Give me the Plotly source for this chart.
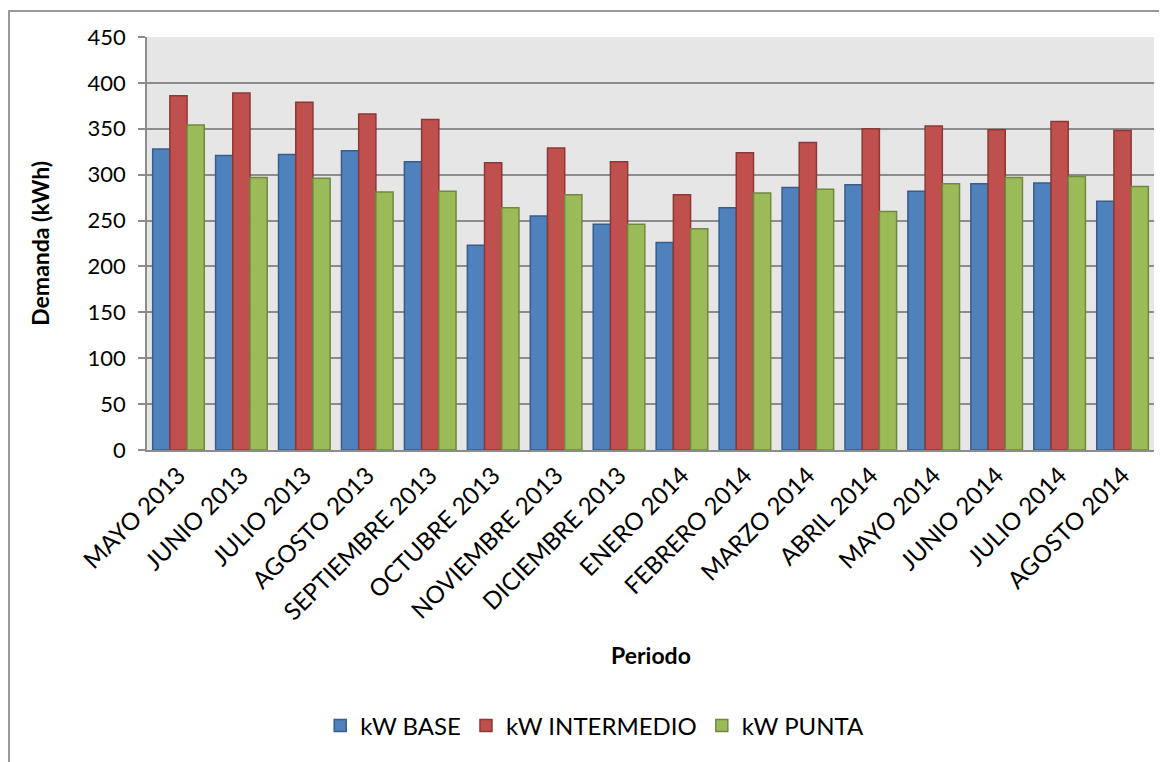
import plotly.graph_objects as go

meses = ["MAYO 2013", "JUNIO 2013", "JULIO 2013", "AGOSTO 2013", "SEPTIEMBRE 2013",
         "OCTUBRE 2013", "NOVIEMBRE 2013", "DICIEMBRE 2013", "ENERO 2014",
         "FEBRERO 2014", "MARZO 2014", "ABRIL 2014", "MAYO 2014", "JUNIO 2014",
         "JULIO 2014", "AGOSTO 2014"]
kw_base = [328, 321, 322, 326, 314, 223, 255, 246, 226, 264, 286, 289, 282, 290, 291, 271]
kw_intermedio = [386, 389, 379, 366, 360, 313, 329, 314, 278, 324, 335, 350, 353, 349, 358, 348]
kw_punta = [354, 297, 296, 281, 282, 264, 278, 246, 241, 280, 284, 260, 290, 297, 298, 287]

FONT = "Lato, Calibri, sans-serif"

series = [
    ("kW BASE", kw_base, "#4F81BD", "#385D8A"),
    ("kW INTERMEDIO", kw_intermedio, "#C0504D", "#8C3836"),
    ("kW PUNTA", kw_punta, "#9BBB59", "#71893F"),
]

fig = go.Figure()
for name, vals, color, edge in series:
    fig.add_trace(go.Bar(
        x=meses, y=vals, name=name,
        marker=dict(color=color, line=dict(color=edge, width=1.5)),
    ))

# page body has an 8px margin, so the figure is shrunk and shifted by that much
fig.update_layout(
    width=1159, height=754,
    margin=dict(l=139, r=13, t=29, b=312),
    paper_bgcolor="white",
    plot_bgcolor="#E6E6E6",
    barmode="group", bargap=0.18, bargroupgap=0,
    font=dict(family=FONT, size=23, color="black"),
    legend=dict(orientation="h", x=0.172, xanchor="left", y=-0.668, yanchor="middle",
                font=dict(size=24), tracegroupgap=0),
    showlegend=True,
)
fig.update_xaxes(
    tickangle=-45, showline=True, linecolor="#8C8C8C", linewidth=1.5,
    ticks="", showgrid=False, tickfont=dict(size=24),
)
fig.update_yaxes(
    range=[0, 450], dtick=50, showline=True, linecolor="#8C8C8C", linewidth=1.5,
    ticks="outside", ticklen=7, tickcolor="#8C8C8C", tickwidth=1.5,
    showgrid=True, gridcolor="#8C8C8C", gridwidth=1.5, zeroline=False,
    tickfont=dict(size=22), ticklabelstandoff=8,
)

fig.add_annotation(text="<b>Periodo</b>", xref="paper", yref="paper",
                   x=0.5, y=-0.496, xanchor="center", yanchor="middle",
                   showarrow=False, font=dict(size=23))
fig.add_annotation(text="<b>Demanda (kWh)</b>", xref="paper", yref="paper",
                   x=-0.107, y=0.5, xanchor="center", yanchor="middle",
                   showarrow=False, textangle=-90, font=dict(size=23))

# chart area border (Excel style), drawn as an empty boxed annotation that
# runs off the right and bottom of the page
fig.add_annotation(text=" ", xref="paper", yref="paper",
                   x=-0.138, y=1.066, xanchor="left", yanchor="top",
                   width=1250, height=850, showarrow=False,
                   bordercolor="#999999", borderwidth=2, borderpad=0)

fig.write_html("out.html")
